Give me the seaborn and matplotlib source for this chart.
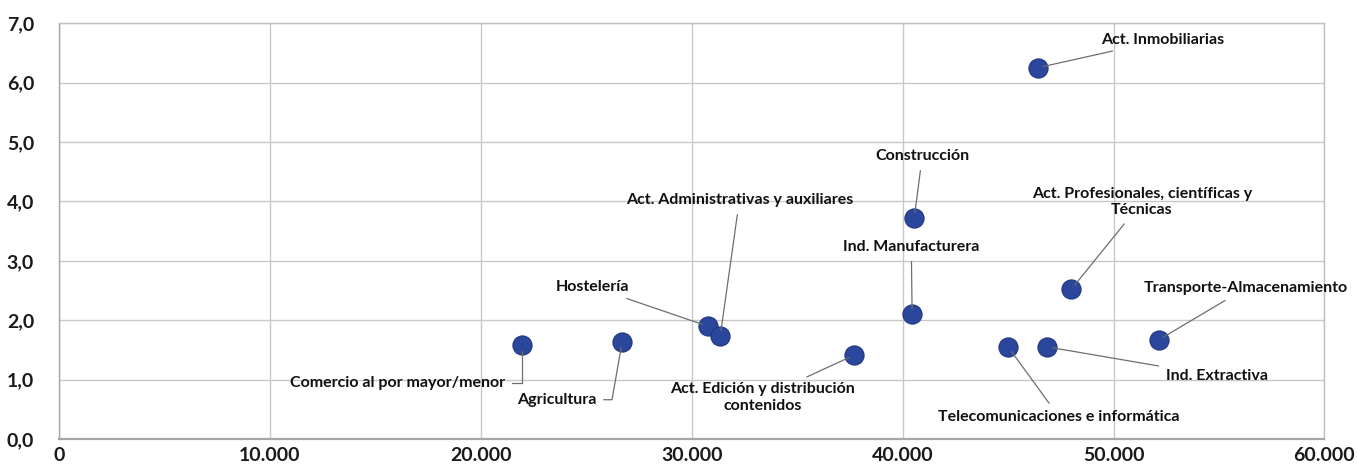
import matplotlib
matplotlib.use("Agg")
import matplotlib.pyplot as plt
from matplotlib.ticker import FuncFormatter, MultipleLocator
import seaborn as sns
import pandas as pd

# sector data: productivity (x) vs value (y)
sectors = [
    "Comercio al por mayor/menor",
    "Agricultura",
    "Hostelería",
    "Act. Administrativas y auxiliares",
    "Act. Edición y distribución\ncontenidos",
    "Ind. Manufacturera",
    "Construcción",
    "Act. Inmobiliarias",
    "Telecomunicaciones e informática",
    "Ind. Extractiva",
    "Act. Profesionales, científicas y\nTécnicas",
    "Transporte-Almacenamiento",
]
x_vals = [21950, 26700, 30750, 31350, 37700, 40450, 40550, 46400, 45000, 46850, 48000, 52150]
y_vals = [1.58, 1.63, 1.90, 1.73, 1.41, 2.10, 3.72, 6.25, 1.55, 1.55, 2.52, 1.67]

# label placement (data coords), alignment, leader style
label_x = [21130, 23590, 25300, 32260, 33350, 40410, 40930, 49410, 47420, 52490, 51350, 56280]
label_y = [0.94, 0.66, 2.56, 4.02, 0.70, 3.23, 4.76, 6.72, 0.37, 1.06, 3.99, 2.54]
label_ha = ["right", "center", "center", "center", "center", "center", "center",
            "left", "center", "left", "center", "center"]
label_conn = ["angle,angleA=0,angleB=90,rad=0", "angle,angleA=0,angleB=80,rad=0"] + ["arc3"] * 10

df = pd.DataFrame({"sector": sectors, "x": x_vals, "y": y_vals})

sns.set_theme(style="whitegrid")
plt.rcParams["font.family"] = ["Lato", "DejaVu Sans"]

fig = plt.figure(figsize=(13.57, 4.74), dpi=100)
ax = fig.add_axes([0.0435, 0.074, 0.9325, 0.877])

sns.scatterplot(data=df, x="x", y="y", ax=ax, s=190, color="#2b479c",
                edgecolor="#1f3580", linewidth=0.8, zorder=3)

for i, name in enumerate(sectors):
    ax.annotate(name, xy=(x_vals[i], y_vals[i]), xytext=(label_x[i], label_y[i]),
                ha=label_ha[i], va="center", fontsize=11.5, fontweight="bold",
                color="#111111", multialignment="center", linespacing=1.25,
                arrowprops=dict(arrowstyle="-", color="#6e6e6e", lw=0.9,
                                connectionstyle=label_conn[i], shrinkA=3, shrinkB=4))

ax.set_xlim(0, 60000)
ax.set_ylim(0, 7)
ax.xaxis.set_major_locator(MultipleLocator(10000))
ax.yaxis.set_major_locator(MultipleLocator(1))
ax.xaxis.set_major_formatter(FuncFormatter(lambda v, p: f"{int(v):,}".replace(",", ".")))
ax.yaxis.set_major_formatter(FuncFormatter(lambda v, p: f"{v:.1f}".replace(".", ",")))
ax.set_xlabel("")
ax.set_ylabel("")
ax.grid(True, color="#c8c8c8", linewidth=1.0)
for sp in ax.spines.values():
    sp.set_visible(True)
    sp.set_color("#bfbfbf")
    sp.set_linewidth(1.0)
ax.spines["bottom"].set_color("#a6a6a6")
ax.spines["bottom"].set_linewidth(1.6)
ax.spines["left"].set_color("#a6a6a6")
ax.tick_params(axis="both", labelsize=14, colors="#1a1a1a", length=0, pad=6)
for lab in ax.get_xticklabels() + ax.get_yticklabels():
    lab.set_fontweight("bold")
ax.tick_params(axis="y", pad=18)

fig.savefig("out.png", dpi=100, facecolor="white")
